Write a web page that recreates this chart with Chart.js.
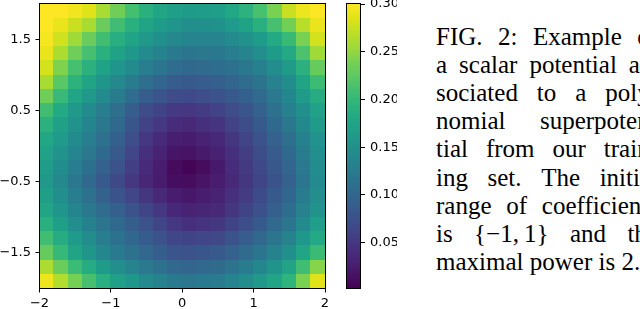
<!DOCTYPE html>
<html>
<head>
<meta charset="utf-8">
<script src="https://cdn.jsdelivr.net/npm/chart.js@4/dist/chart.umd.min.js"></script>
<style>
  html, body { margin: 0; padding: 0; background: #fff; }
  body { width: 640px; height: 309px; position: relative; overflow: hidden; }
  #heat { position: absolute; left: 0; top: 0; }
  #cbar { position: absolute; left: 340px; top: 0; }
  #caption {
    position: absolute; left: 436px; top: 22.5px; width: 222px;
    font-family: "Liberation Serif", serif; font-size: 25px; line-height: 28.2px; color: #000;
  }
  #caption .ln { display: flex; justify-content: space-between; white-space: nowrap; }
  #caption .last { white-space: nowrap; }
</style>
</head>
<body>
<canvas id="heat" width="335" height="309"></canvas>
<canvas id="cbar" width="57" height="309"></canvas>
<div id="caption">
  <div class="ln"><span>FIG.</span><span>2:</span><span>Example</span><span>of</span></div>
  <div class="ln"><span>a</span><span>scalar</span><span>potential</span><span>as-</span></div>
  <div class="ln"><span>sociated</span><span>to</span><span>a</span><span>poly-</span></div>
  <div class="ln"><span>nomial</span><span>superpoten-</span></div>
  <div class="ln"><span>tial</span><span>from</span><span>our</span><span>train-</span></div>
  <div class="ln"><span>ing</span><span>set.</span><span>The</span><span>initial</span></div>
  <div class="ln"><span>range</span><span>of</span><span>coefficients</span></div>
  <div class="ln"><span>is</span><span>{−1,&#8201;1}</span><span>and</span><span>the</span></div>
  <div class="last">maximal power is 2.</div>
</div>
<script>
// axis ticks
const xTicks = [-2, -1, 0, 1, 2];
const yTicks = [1.5, 0.5, -0.5, -1.5];
const colorTicks = [0.05, 0.10, 0.15, 0.20, 0.25, 0.30];
const colorMin = 0.002;
const colorMax = 0.30;

// grid of cell centres (data units)
const cellX = [-1.9, -1.7, -1.5, -1.3, -1.1, -0.9, -0.7, -0.5, -0.3, -0.1, 0.1, 0.3, 0.5, 0.7, 0.9, 1.1, 1.3, 1.5, 1.7, 1.9];
const cellY = [1.9, 1.7, 1.5, 1.3, 1.1, 0.9, 0.7, 0.5, 0.3, 0.1, -0.1, -0.3, -0.5, -0.7, -0.9, -1.1, -1.3, -1.5, -1.7, -1.9];
const cellSize = 0.2;

// potential, one row per cellY (top to bottom)
const potential = [
  [0.306,0.300,0.294,0.285,0.260,0.235,0.210,0.190,0.178,0.168,0.164,0.165,0.167,0.180,0.193,0.213,0.240,0.275,0.292,0.305],
  [0.300,0.290,0.275,0.260,0.232,0.208,0.190,0.174,0.164,0.154,0.149,0.150,0.151,0.161,0.172,0.190,0.212,0.236,0.268,0.290],
  [0.296,0.278,0.255,0.232,0.208,0.188,0.174,0.160,0.150,0.140,0.135,0.135,0.135,0.143,0.151,0.164,0.182,0.203,0.240,0.280],
  [0.290,0.262,0.234,0.212,0.190,0.172,0.158,0.144,0.134,0.123,0.119,0.120,0.121,0.128,0.135,0.147,0.164,0.182,0.215,0.255],
  [0.280,0.242,0.212,0.192,0.172,0.156,0.142,0.128,0.117,0.106,0.102,0.105,0.107,0.113,0.120,0.130,0.145,0.162,0.192,0.230],
  [0.260,0.222,0.193,0.174,0.157,0.140,0.125,0.110,0.099,0.089,0.085,0.089,0.092,0.099,0.106,0.116,0.131,0.146,0.174,0.205],
  [0.235,0.202,0.177,0.159,0.142,0.125,0.108,0.090,0.080,0.070,0.068,0.072,0.076,0.084,0.093,0.105,0.122,0.138,0.162,0.186],
  [0.208,0.182,0.160,0.144,0.128,0.110,0.090,0.070,0.061,0.052,0.050,0.055,0.060,0.070,0.080,0.094,0.112,0.130,0.150,0.170],
  [0.192,0.171,0.152,0.136,0.120,0.102,0.081,0.060,0.050,0.040,0.037,0.043,0.048,0.060,0.071,0.086,0.103,0.120,0.141,0.162],
  [0.180,0.161,0.144,0.128,0.112,0.093,0.072,0.050,0.039,0.027,0.024,0.030,0.036,0.049,0.062,0.077,0.094,0.110,0.132,0.153],
  [0.170,0.153,0.136,0.120,0.103,0.085,0.064,0.043,0.031,0.019,0.017,0.023,0.029,0.043,0.056,0.071,0.087,0.103,0.125,0.148],
  [0.165,0.146,0.128,0.111,0.094,0.076,0.057,0.039,0.026,0.010,0.005,0.011,0.022,0.040,0.053,0.067,0.083,0.099,0.122,0.145],
  [0.160,0.140,0.120,0.102,0.084,0.067,0.051,0.035,0.024,0.013,0.011,0.018,0.025,0.037,0.049,0.063,0.079,0.095,0.119,0.143],
  [0.168,0.148,0.128,0.112,0.095,0.079,0.064,0.049,0.037,0.025,0.021,0.026,0.031,0.043,0.055,0.069,0.085,0.101,0.125,0.149],
  [0.176,0.156,0.136,0.121,0.106,0.092,0.077,0.063,0.050,0.036,0.031,0.034,0.037,0.049,0.061,0.075,0.091,0.107,0.131,0.155],
  [0.189,0.168,0.147,0.132,0.117,0.103,0.090,0.076,0.063,0.050,0.044,0.047,0.049,0.061,0.072,0.086,0.102,0.118,0.142,0.166],
  [0.208,0.185,0.161,0.145,0.128,0.114,0.101,0.088,0.076,0.065,0.061,0.064,0.067,0.078,0.089,0.102,0.118,0.134,0.158,0.182],
  [0.230,0.201,0.175,0.157,0.139,0.124,0.112,0.100,0.090,0.080,0.077,0.081,0.085,0.095,0.105,0.118,0.134,0.150,0.176,0.204],
  [0.262,0.232,0.205,0.185,0.164,0.148,0.135,0.122,0.112,0.102,0.099,0.102,0.105,0.115,0.125,0.138,0.155,0.174,0.208,0.245],
  [0.292,0.264,0.237,0.212,0.189,0.171,0.158,0.144,0.134,0.124,0.120,0.123,0.125,0.135,0.145,0.159,0.176,0.196,0.240,0.285]
];

// viridis colour stops
const viridisStops = ['#440154','#471365','#482475','#46337f','#414487','#3b528b','#355f8d','#2f6c8e','#2a788e','#25858e',
  '#21918c','#1f9e89','#22a884','#2fb47c','#44bf70','#5ec962','#7ad151','#a0da39','#bddf26','#dfe318','#fde725'];

function hexRgb(h) {
  return [parseInt(h.slice(1,3),16), parseInt(h.slice(3,5),16), parseInt(h.slice(5,7),16)];
}
const stopsRgb = viridisStops.map(hexRgb);

function viridis(t) {
  t = Math.max(0, Math.min(1, t));
  const n = stopsRgb.length - 1;
  const i = Math.min(n - 1, Math.floor(t * n));
  const f = t * n - i;
  const a = stopsRgb[i], b = stopsRgb[i + 1];
  return 'rgb(' + Math.round(a[0] + (b[0]-a[0])*f) + ',' + Math.round(a[1] + (b[1]-a[1])*f) + ',' + Math.round(a[2] + (b[2]-a[2])*f) + ')';
}

function minusLabel(v, digits) {
  const s = Math.abs(v).toFixed(digits);
  return v < 0 ? '\u2212' + s : s;
}

const cells = [];
potential.forEach((row, i) => {
  row.forEach((v, j) => cells.push({ x: cellX[j], y: cellY[i], v: v }));
});

function frame(chart) {
  const { ctx, chartArea } = chart;
  const l = Math.floor(chartArea.left) + 0.5, t = Math.floor(chartArea.top) - 0.5;
  const r = Math.floor(chartArea.right) + 0.5, b = Math.floor(chartArea.bottom) + 0.5;
  ctx.save();
  ctx.strokeStyle = '#000';
  ctx.lineWidth = 1;
  ctx.strokeRect(l, t, r - l, b - t);
  ctx.restore();
}

const heatCells = {
  id: 'heatCells',
  beforeDatasetsDraw(chart) {
    const { ctx, chartArea } = chart;
    const xs = chart.scales.x, ys = chart.scales.y;
    ctx.save();
    ctx.beginPath();
    ctx.rect(chartArea.left, chartArea.top, chartArea.width, chartArea.height);
    ctx.clip();
    chart.data.datasets[0].data.forEach(c => {
      const x0 = Math.floor(xs.getPixelForValue(c.x - cellSize / 2));
      const x1 = Math.ceil(xs.getPixelForValue(c.x + cellSize / 2));
      const y0 = Math.floor(ys.getPixelForValue(c.y + cellSize / 2));
      const y1 = Math.ceil(ys.getPixelForValue(c.y - cellSize / 2));
      ctx.fillStyle = viridis((c.v - colorMin) / (colorMax - colorMin));
      ctx.fillRect(x0, y0, x1 - x0, y1 - y0);
    });
    ctx.restore();
  },
  afterDraw: frame
};

const tickFont = { family: 'DejaVu Sans', size: 13 };

// keep chartArea where we put it: no extra room for half tick labels
function noPadV(s, w) { s.width = w; s.paddingTop = 0; s.paddingBottom = 0; }
function noPadH(s, h) { s.height = h; s.paddingLeft = 0; s.paddingRight = 0; }

new Chart(document.getElementById('heat'), {
  type: 'scatter',
  data: { datasets: [{ data: cells, pointRadius: 0, pointHoverRadius: 0 }] },
  options: {
    responsive: false,
    animation: false,
    events: [],
    layout: { padding: { top: 4, right: 10, left: 0, bottom: 0 } },
    plugins: { legend: { display: false }, tooltip: { enabled: false } },
    scales: {
      x: {
        type: 'linear', min: -2, max: 2,
        afterBuildTicks: s => { s.ticks = xTicks.map(v => ({ value: v })); },
        afterFit: s => noPadH(s, 20.5),
        ticks: { font: tickFont, color: '#000', padding: 3, autoSkip: false, maxRotation: 0,
                 callback: v => minusLabel(v, 0) },
        grid: { drawOnChartArea: false, tickLength: 4, color: '#000' },
        border: { display: false }
      },
      y: {
        type: 'linear', min: -2, max: 2,
        afterBuildTicks: s => { s.ticks = yTicks.map(v => ({ value: v })); },
        afterFit: s => noPadV(s, 39.5),
        ticks: { font: tickFont, color: '#000', padding: 4.5, autoSkip: false,
                 callback: v => minusLabel(v, 1) },
        grid: { drawOnChartArea: false, tickLength: 4, color: '#000' },
        border: { display: false }
      }
    }
  },
  plugins: [heatCells]
});

const colorStrip = {
  id: 'colorStrip',
  beforeDatasetsDraw(chart) {
    const { ctx, chartArea } = chart;
    const ys = chart.scales.y;
    const top = ys.getPixelForValue(colorMax), bottom = ys.getPixelForValue(colorMin);
    const g = ctx.createLinearGradient(0, bottom, 0, top);
    viridisStops.forEach((c, i) => g.addColorStop(i / (viridisStops.length - 1), c));
    ctx.save();
    ctx.fillStyle = g;
    ctx.fillRect(chartArea.left, top, chartArea.width, bottom - top);
    ctx.restore();
  },
  afterDraw: frame
};

new Chart(document.getElementById('cbar'), {
  type: 'scatter',
  data: { datasets: [] },
  options: {
    responsive: false,
    animation: false,
    events: [],
    layout: { padding: { top: 4, right: 0, left: 6.7, bottom: 20.5 } },
    plugins: { legend: { display: false }, tooltip: { enabled: false } },
    scales: {
      x: { display: false, min: 0, max: 1 },
      y: {
        position: 'right', min: colorMin, max: colorMax,
        afterBuildTicks: s => { s.ticks = colorTicks.map(v => ({ value: v })); },
        afterFit: s => noPadV(s, 36),
        ticks: { font: tickFont, color: '#000', padding: 5, autoSkip: false,
                 callback: v => v.toFixed(2) },
        grid: { drawOnChartArea: false, tickLength: 4, color: '#000' },
        border: { display: false }
      }
    }
  },
  plugins: [colorStrip]
});
</script>
</body>
</html>
